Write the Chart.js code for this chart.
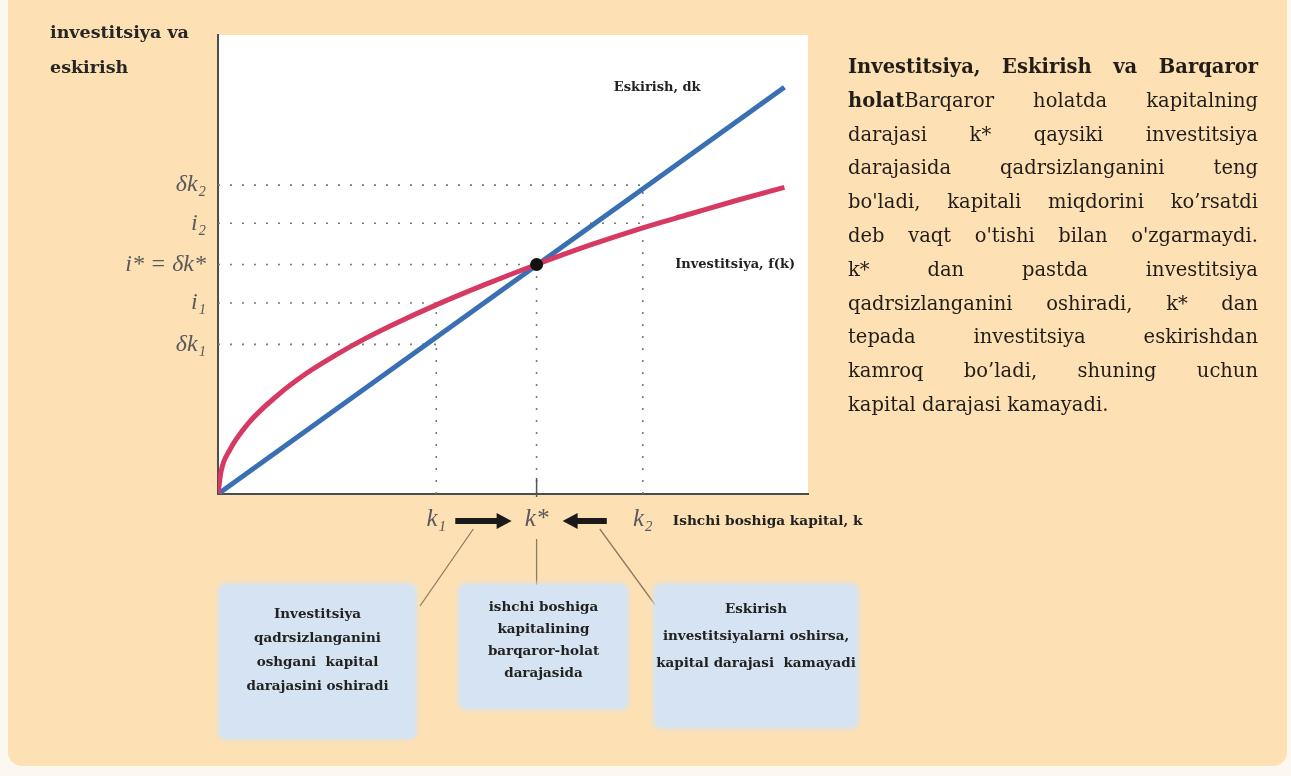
<!DOCTYPE html>
<html>
<head>
<meta charset="utf-8">
<script src="https://cdn.jsdelivr.net/npm/chart.js@4.4.1/dist/chart.umd.min.js"></script>
<style>
  html, body { margin: 0; padding: 0; background: #fdf8ef; }
  body { width: 1291px; height: 776px; position: relative; overflow: hidden; }
  #card { position: absolute; left: 8px; top: -14px; width: 1279px; height: 780px;
          background: #fde0b3; border-radius: 14px; }
  #chart { position: absolute; left: 0; top: 0; }
  .note { position: absolute; background: #d6e3f2; border-radius: 6px;
          box-shadow: 0 0 5px 2px #d9e4ef; font: bold 13.5px "DejaVu Serif"; color: #222;
          text-align: center; box-sizing: border-box; }
  #text { position: absolute; left: 848px; top: 50px; width: 410px;
          font: 19.5px "DejaVu Serif"; line-height: 33.8px; color: #221d18; }
  #text div { text-align: justify; text-align-last: justify; white-space: nowrap; }
  #text div.last { text-align-last: left; }
  #ylabel { position: absolute; left: 50px; top: 15px; font: bold 17.5px "DejaVu Serif";
            line-height: 35px; color: #262626; }
</style>
</head>
<body>
<div id="card"></div>
<canvas id="chart" width="1291" height="776"></canvas>
<div id="ylabel">investitsiya va<br>eskirish</div>

<div class="note" style="left:220px;top:585px;width:195px;height:153px;padding-top:16px;line-height:24px;">
  Investitsiya<br>qadrsizlanganini<br>oshgani&nbsp; kapital<br>darajasini oshiradi</div>
<div class="note" style="left:460px;top:585px;width:167px;height:123px;padding-top:10px;line-height:22px;">
  ishchi boshiga<br>kapitalining<br>barqaror-holat<br>darajasida</div>
<div class="note" style="left:655px;top:585px;width:202px;height:142px;padding-top:10px;line-height:27px;">
  Eskirish<br>investitsiyalarni oshirsa,<br>kapital darajasi&nbsp; kamayadi</div>

<div id="text">
  <div><b>Investitsiya, Eskirish va Barqaror</b></div>
  <div><b>holat</b>Barqaror holatda kapitalning</div>
  <div>darajasi k* qaysiki investitsiya</div>
  <div>darajasida qadrsizlanganini teng</div>
  <div>bo'ladi, kapitali miqdorini ko’rsatdi</div>
  <div>deb vaqt o'tishi bilan o'zgarmaydi.</div>
  <div>k* dan pastda investitsiya</div>
  <div>qadrsizlanganini oshiradi, k* dan</div>
  <div>tepada investitsiya eskirishdan</div>
  <div>kamroq bo’ladi, shuning uchun</div>
  <div class="last">kapital darajasi kamayadi.</div>
</div>

<script>
// capital per worker and the investment schedule f(k)
const capital = [0, 0.5, 2, 5, 10, 15, 20, 25, 30, 37, 45, 54, 63, 72, 80, 88, 96];
const investment = [0, 4.8, 9.6, 15.2, 21.4, 26.3, 30.3, 33.9, 37.1, 41.2, 45.5, 50.0, 54.2, 58.0, 61.0, 64.0, 66.8];

// depreciation line dk
const deprCapital = [0, 96];
const depreciation = [0, 88.6];

// marked capital levels on the x axis
const kLabels = ['k₁', 'k*', 'k₂'];
const kValues = [37, 54, 72];

// marked levels on the y axis (bottom to top)
const levelLabels = ['δk₁', 'i₁', 'i* = δk*', 'i₂', 'δk₂'];
const levelValues = [32.6, 41.6, 50.0, 59.0, 67.3];
// which k each horizontal guide runs to
const levelK = [37, 37, 54, 72, 72];

const steadyK = 54;
const steadyI = 50.0;

const BLUE = '#3a70b3';
const RED = '#d63962';
const GUIDE = '#7a7a7a';

function xy(xs, ys) {
  return xs.map((x, i) => ({ x: x, y: ys[i] }));
}

const guideSets = [];
levelValues.forEach((v, i) => {
  guideSets.push({ data: [{ x: 0, y: v }, { x: levelK[i], y: v }] });
});
// vertical guides up to i1, i*, dk2
const vertTop = [levelValues[1], levelValues[2], levelValues[4]];
kValues.forEach((k, i) => {
  guideSets.push({ data: [{ x: k, y: 0 }, { x: k, y: vertTop[i] }] });
});
guideSets.forEach(d => {
  d.showLine = true;
  d.borderColor = GUIDE;
  d.borderWidth = 1.6;
  d.borderDash = [2, 10];
  d.pointRadius = 0;
  d.order = 5;
});

const decor = {
  id: 'decor',
  beforeDraw(chart) {
    const { ctx, chartArea: a } = chart;
    ctx.save();
    ctx.fillStyle = '#ffffff';
    ctx.fillRect(a.left, a.top, a.right - a.left, a.bottom - a.top);
    ctx.restore();
  },
  afterDraw(chart) {
    const { ctx, chartArea: a } = chart;
    const xs = chart.scales.x, ys = chart.scales.y;
    const k1 = xs.getPixelForValue(kValues[0]);
    const ks = xs.getPixelForValue(kValues[1]);
    const k2 = xs.getPixelForValue(kValues[2]);
    const ty = a.bottom + 27;
    ctx.save();

    // solid tick at k*
    ctx.strokeStyle = '#555';
    ctx.lineWidth = 1.5;
    ctx.beginPath();
    ctx.moveTo(ks, a.bottom - 16);
    ctx.lineTo(ks, a.bottom + 3);
    ctx.stroke();

    // connectors to the notes
    ctx.strokeStyle = '#8d7c62';
    ctx.lineWidth = 1.3;
    ctx.beginPath();
    ctx.moveTo(k1 + 37, ty + 8); ctx.lineTo(420, 606);
    ctx.moveTo(ks, ty + 18); ctx.lineTo(ks, 588);
    ctx.moveTo(k2 - 43, ty + 8); ctx.lineTo(656, 606);
    ctx.stroke();

    // arrows pointing toward k*
    function arrow(x0, x1) {
      const dir = Math.sign(x1 - x0);
      ctx.strokeStyle = '#1a1a1a';
      ctx.fillStyle = '#1a1a1a';
      ctx.lineWidth = 6;
      ctx.beginPath();
      ctx.moveTo(x0, ty);
      ctx.lineTo(x1 - dir * 10, ty);
      ctx.stroke();
      ctx.beginPath();
      ctx.moveTo(x1, ty);
      ctx.lineTo(x1 - dir * 15, ty - 8);
      ctx.lineTo(x1 - dir * 15, ty + 8);
      ctx.closePath();
      ctx.fill();
    }
    arrow(k1 + 19, ks - 25);
    arrow(k2 - 36, ks + 26);

    // curve and axis captions
    ctx.fillStyle = '#222';
    ctx.font = 'bold 13px "DejaVu Serif"';
    ctx.textBaseline = 'middle';
    ctx.textAlign = 'left';
    ctx.fillText('Investitsiya, f(k)', xs.getPixelForValue(77.5), ys.getPixelForValue(steadyI));
    ctx.font = 'bold 13.7px "DejaVu Serif"';
    ctx.fillText('Ishchi boshiga kapital, k', k2 + 30, ty);
    ctx.textAlign = 'right';
    ctx.font = 'bold 13px "DejaVu Serif"';
    ctx.fillText('Eskirish, dk', xs.getPixelForValue(81.8), ys.getPixelForValue(depreciation[1]));
    ctx.restore();
  }
};

new Chart(document.getElementById('chart'), {
  type: 'scatter',
  data: {
    datasets: [
      { data: [{ x: steadyK, y: steadyI }], pointRadius: 6.5, pointBackgroundColor: '#111',
        pointBorderWidth: 0, order: 0 },
      { data: xy(capital, investment), showLine: true, borderColor: RED, borderWidth: 5,
        pointRadius: 0, cubicInterpolationMode: 'monotone', order: 1 },
      { data: xy(deprCapital, depreciation), showLine: true, borderColor: BLUE, borderWidth: 5,
        pointRadius: 0, order: 2 },
      ...guideSets
    ]
  },
  options: {
    responsive: false,
    animation: false,
    devicePixelRatio: 1,
    layout: { padding: { left: 0, right: 483, top: 35, bottom: 222 } },
    plugins: { legend: { display: false }, tooltip: { enabled: false } },
    scales: {
      x: {
        type: 'linear', min: 0, max: 100,
        afterFit(scale) { scale.height = 60; },
        afterBuildTicks(scale) { scale.ticks = kValues.map(v => ({ value: v })); },
        grid: { display: false, drawTicks: false },
        border: { color: '#4d4d4d', width: 2 },
        ticks: {
          autoSkip: false, maxRotation: 0, padding: 10, color: '#5a5a5a',
          font: { family: 'Liberation Serif', style: 'italic', size: 25 },
          callback: (v, i) => kLabels[i]
        }
      },
      y: {
        type: 'linear', min: 0, max: 100,
        afterFit(scale) { scale.width = 218; },
        afterBuildTicks(scale) { scale.ticks = levelValues.map(v => ({ value: v })); },
        grid: { display: false, drawTicks: false },
        border: { color: '#4d4d4d', width: 2 },
        ticks: {
          autoSkip: false, padding: 12, color: '#5a5a5a',
          font: { family: 'Liberation Serif', style: 'italic', size: 24 },
          callback: (v, i) => levelLabels[i]
        }
      }
    }
  },
  plugins: [decor]
});
</script>
</body>
</html>
